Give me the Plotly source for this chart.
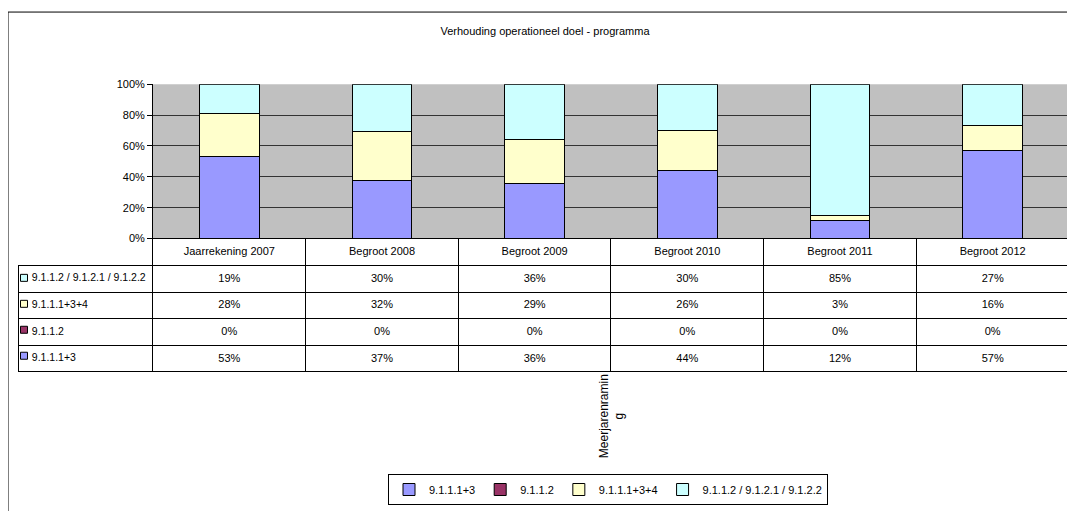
import plotly.graph_objects as go

# page body has an 8px margin, so work in screen pixels and shift
OX, OY = 8, 8
W, H = 1075 - OX, 511 - OY


def px(sx):
    return (sx - OX) / W


def py(sy):
    return 1 - (sy - OY) / H


categories = ["Jaarrekening 2007", "Begroot 2008", "Begroot 2009",
              "Begroot 2010", "Begroot 2011", "Begroot 2012"]
series_names = ["9.1.1.1+3", "9.1.1.2", "9.1.1.1+3+4", "9.1.1.2 / 9.1.2.1 / 9.1.2.2"]
colors = ["#9999FF", "#993366", "#FFFFCC", "#CCFFFF"]

s_9111_3 = [53, 37, 36, 44, 12, 57]
s_9112 = [0, 0, 0, 0, 0, 0]
s_9111_34 = [28, 32, 29, 26, 3, 16]
s_9112_rest = [19, 30, 36, 30, 85, 27]
series = [s_9111_3, s_9112, s_9111_34, s_9112_rest]

family = "Liberation Sans, Arial, sans-serif"
font = dict(family=family, size=11, color="black")
clear = "rgba(0,0,0,0)"

fig = go.Figure()
for name, vals, col in zip(series_names, series, colors):
    fig.add_trace(go.Bar(x=categories, y=vals, name=name, width=0.39,
                         marker=dict(color=col, line=dict(color="black", width=1))))

# data table under the chart (rows top->bottom = reverse of the stack)
rows = list(range(len(series_names)))[::-1]
first_col = ["\u00a0\u00a0" + series_names[i].replace(" ", "\u00a0") for i in rows]
data_cols = [[f"{series[i][j]}%" for i in rows] for j in range(len(categories))]

row_top, row_h, head_h = 238, 26.6, 27
fig.add_trace(go.Table(
    domain=dict(x=[px(18), px(1069)], y=[0, py(row_top)]),
    columnwidth=[135] + [152.7] * len(categories),
    header=dict(values=[""] + categories, height=head_h, align="center",
                fill_color=[clear] + ["white"] * len(categories), font=font,
                line=dict(color=[clear] + ["black"] * len(categories), width=1)),
    cells=dict(values=[first_col] + data_cols, height=row_h,
               align=["left"] + ["center"] * len(categories),
               fill_color=[clear] + ["white"] * len(categories),
               font=dict(family=family, size=[10.5] + [11] * len(categories), color="black"),
               line=dict(color="black", width=1)),
))

# coloured key squares in the first table column (seen through its clear fill)
cells_top = row_top + head_h
cells_bot = cells_top + row_h * len(series_names)
fig.add_trace(go.Scatter(
    x=[0.5] * len(series_names), y=series_names, mode="markers",
    marker=dict(symbol="square", size=7, color=colors, line=dict(color="black", width=1)),
    xaxis="x2", yaxis="y2", showlegend=False, hoverinfo="skip"))

fig.add_annotation(text="Meerjarenramin<br>g", textangle=-90, showarrow=False,
                   xref="paper", yref="paper", x=px(612), y=py(420),
                   xanchor="center", yanchor="middle",
                   font=dict(family=family, size=12, color="black"))

# grey plot area, under the gridlines
fig.add_shape(type="rect", xref="x domain", yref="y domain", x0=0, x1=1, y0=0, y1=1,
              fillcolor="#C0C0C0", line=dict(width=0), layer="below")

# outer chart frame
fig.add_shape(type="rect", xref="paper", yref="paper",
              x0=px(8), x1=1.05, y0=-0.05, y1=py(6),
              line=dict(color="black", width=1), layer="above")

fig.update_layout(
    width=W, height=H,
    margin=dict(l=0, r=0, t=0, b=0),
    paper_bgcolor="white", plot_bgcolor="white",
    font=font,
    barmode="stack", barnorm="percent",
    title=dict(text="Verhouding operationeel doel - programma", x=px(545), xanchor="center",
               y=py(31), yanchor="middle", font=font),
    xaxis=dict(domain=[px(153), px(1069)], showticklabels=False, showgrid=False,
               showline=True, linecolor="black", linewidth=1, ticks=""),
    yaxis=dict(domain=[py(238), py(80)], range=[0, 100], dtick=20,
               ticksuffix="%", showgrid=True, gridcolor="#333333", gridwidth=1,
               showline=True, linecolor="black", mirror=True, ticks="outside",
               ticklen=5, tickcolor="black", zeroline=False),
    xaxis2=dict(domain=[px(18), px(30)], range=[0, 1], visible=False, anchor="y2"),
    yaxis2=dict(domain=[py(cells_bot), py(cells_top)], range=[-0.5, 3.5],
                type="category", categoryarray=series_names, categoryorder="array",
                visible=False, anchor="x2"),
    legend=dict(orientation="h", traceorder="normal", x=px(608), xanchor="center",
                y=0, yanchor="bottom", bordercolor="black", borderwidth=1,
                itemwidth=30, font=font, bgcolor="white"),
    showlegend=True,
)

fig.write_html("out.html")
